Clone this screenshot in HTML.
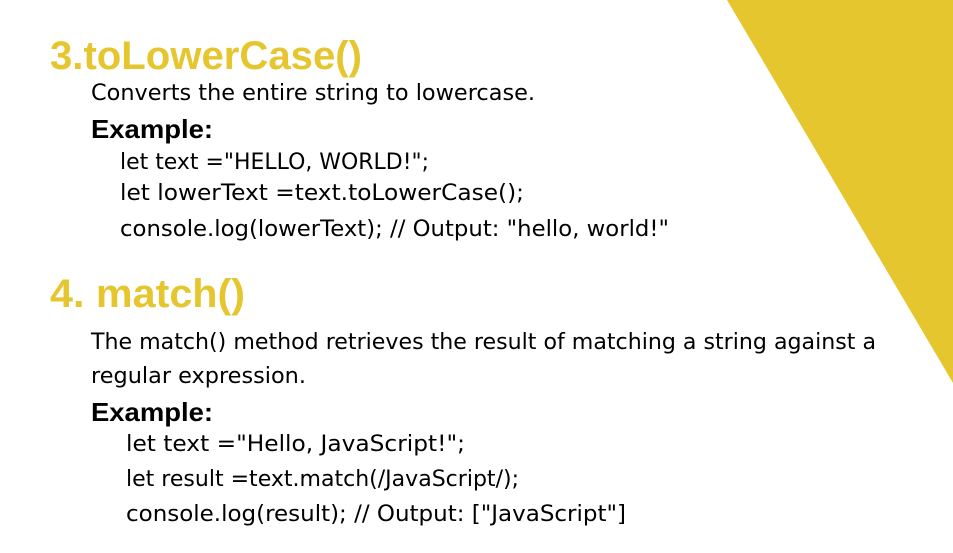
<!DOCTYPE html>
<html><head><meta charset="utf-8"><style>
html,body{margin:0;padding:0;background:#fff;}
svg{display:block}
.h{font-family:"Liberation Sans",sans-serif;font-weight:bold;fill:#E6C62F;font-size:40px;}
.ex{font-family:"Liberation Sans",sans-serif;font-weight:bold;fill:#000;font-size:26px;}
.t{font-family:"DejaVu Sans","Liberation Sans",sans-serif;fill:#000;font-size:22px;}
</style></head><body>
<svg width="953" height="553" viewBox="0 0 953 553" xmlns="http://www.w3.org/2000/svg">
<rect width="953" height="553" fill="#fff"/>
<polygon points="727,0 953,0 953,383" fill="#E6C62F"/>
<text class="h" x="50" y="69" textLength="312" lengthAdjust="spacingAndGlyphs">3.toLowerCase()</text>
<text class="t" x="91" y="100" textLength="444" lengthAdjust="spacingAndGlyphs">Converts the entire string to lowercase.</text>
<text class="ex" x="91" y="138" textLength="122" lengthAdjust="spacingAndGlyphs">Example:</text>
<text class="t" x="120" y="169" textLength="309" lengthAdjust="spacingAndGlyphs">let text ="HELLO, WORLD!";</text>
<text class="t" x="120" y="200" textLength="404" lengthAdjust="spacingAndGlyphs">let lowerText =text.toLowerCase();</text>
<text class="t" x="120" y="236" textLength="549" lengthAdjust="spacingAndGlyphs">console.log(lowerText);  // Output: "hello, world!"</text>
<text class="h" x="50" y="307" textLength="195" lengthAdjust="spacingAndGlyphs">4. match()</text>
<text class="t" x="91" y="349" textLength="785" lengthAdjust="spacingAndGlyphs">The match() method retrieves the result of matching a string against a</text>
<text class="t" x="91" y="383" textLength="215" lengthAdjust="spacingAndGlyphs">regular expression.</text>
<text class="ex" x="91" y="421" textLength="122" lengthAdjust="spacingAndGlyphs">Example:</text>
<text class="t" x="126" y="451" textLength="339" lengthAdjust="spacingAndGlyphs">let text ="Hello, JavaScript!";</text>
<text class="t" x="126" y="486" textLength="393" lengthAdjust="spacingAndGlyphs">let result =text.match(/JavaScript/);</text>
<text class="t" x="126" y="521" textLength="500" lengthAdjust="spacingAndGlyphs">console.log(result);  // Output: ["JavaScript"]</text>
</svg>
</body></html>
